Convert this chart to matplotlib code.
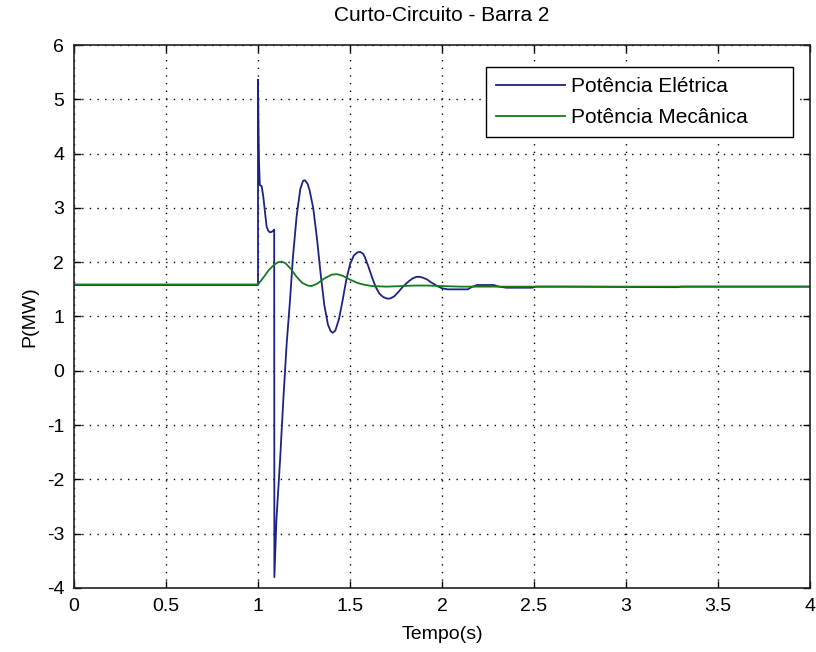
import matplotlib
matplotlib.use("Agg")
import matplotlib.pyplot as plt

plt.rcParams["font.family"] = ["Liberation Sans", "DejaVu Sans"]
plt.rcParams["axes.unicode_minus"] = False

# Electrical power response to the short circuit (time in s, power in MW)
t_ele = [0.0, 1.0, 1.0, 1.003, 1.006, 1.01, 1.02, 1.029, 1.038, 1.047, 1.056, 1.065,
         1.075, 1.083, 1.088, 1.089, 1.10, 1.12, 1.1375, 1.156, 1.174, 1.19, 1.21,
         1.23, 1.245, 1.255, 1.27, 1.28, 1.30, 1.32, 1.34, 1.36,
         1.38, 1.395, 1.406, 1.42, 1.44, 1.46, 1.48, 1.50, 1.52, 1.54, 1.555, 1.57,
         1.58, 1.60, 1.62, 1.64, 1.66, 1.68, 1.70, 1.717, 1.74, 1.76, 1.78, 1.80,
         1.82, 1.84, 1.86, 1.88, 1.90, 1.92, 1.94, 1.96, 1.98, 2.00, 2.03, 2.14,
         2.16, 2.19, 2.28, 2.31, 2.35, 2.49, 2.51, 2.67, 3.23, 3.28, 3.30, 4.0]
p_ele = [1.58, 1.58, 5.36, 4.40, 3.80, 3.42, 3.40, 3.20, 2.92, 2.65, 2.58, 2.55,
         2.56, 2.58, 2.60, -3.80, -2.75, -1.64, -0.54, 0.51, 1.30, 2.10, 2.85,
         3.35, 3.50, 3.51, 3.44, 3.33, 3.00, 2.45, 1.80, 1.22,
         0.85, 0.73, 0.70, 0.74, 0.95, 1.30, 1.68, 1.96, 2.12, 2.18, 2.19, 2.16,
         2.10, 1.92, 1.72, 1.54, 1.42, 1.36, 1.33, 1.33, 1.37, 1.44, 1.52, 1.59,
         1.65, 1.70, 1.73, 1.73, 1.71, 1.68, 1.63, 1.59, 1.55, 1.52, 1.50, 1.50,
         1.54, 1.58, 1.58, 1.55, 1.53, 1.53, 1.55, 1.55, 1.54, 1.54, 1.55, 1.55]

# Mechanical power response
t_mec = [0.0, 1.0, 1.03, 1.06, 1.09, 1.11, 1.13, 1.15, 1.18, 1.21, 1.24, 1.27,
         1.29, 1.32, 1.36, 1.40, 1.43, 1.46, 1.50, 1.54, 1.57, 1.62, 1.70, 1.78,
         1.85, 1.92, 2.00, 2.10, 2.30, 4.0]
p_mec = [1.59, 1.59, 1.72, 1.86, 1.96, 2.00, 2.01, 1.98, 1.87, 1.73, 1.62, 1.57,
         1.56, 1.60, 1.70, 1.77, 1.78, 1.75, 1.68, 1.62, 1.59, 1.56, 1.55, 1.56,
         1.57, 1.57, 1.56, 1.55, 1.55, 1.55]

title = "Curto-Circuito - Barra 2"
xlabel = "Tempo(s)"
ylabel = "P(MW)"
labels = ["Potência Elétrica", "Potência Mecânica"]
xticks = [0, 0.5, 1, 1.5, 2, 2.5, 3, 3.5, 4]
xticklabels = ["0", "0.5", "1", "1.5", "2", "2.5", "3", "3.5", "4"]
yticks = list(range(-4, 7))

fig = plt.figure(figsize=(8.16, 6.52), dpi=100)
ax = fig.add_axes([74 / 816, (652 - 588) / 652, 736 / 816, 543 / 652])

ax.plot(t_ele, p_ele, color="#1c2384", lw=1.3, label=labels[0])
ax.plot(t_mec, p_mec, color="#177a1f", lw=1.3, label=labels[1])

ax.set_xlim(0, 4)
ax.set_ylim(-4, 6)
ax.set_xticks(xticks)
ax.set_xticklabels(xticklabels)
ax.set_yticks(yticks)

ax.grid(True, color="black", linestyle=(0, (1, 4.5)), lw=1.0)
ax.tick_params(direction="in", length=5, width=1, top=True, right=True,
               labelsize=14, pad=7)
for s in ax.spines.values():
    s.set_linewidth(1.2)
    s.set_color("#222222")

ax.set_title(title, fontsize=15, pad=17)
ax.set_xlabel(xlabel, fontsize=14, labelpad=8)
ax.set_ylabel(ylabel, fontsize=14, labelpad=6)

# legend box stretched to a fixed width, entries left-aligned inside it
leg_box = (412 / 736, 451 / 543, 307 / 736, 70 / 543)
leg = ax.legend(loc="upper left", bbox_to_anchor=leg_box, mode="expand",
                borderaxespad=0, fontsize=15, handlelength=3.3, handletextpad=0.3,
                labelspacing=0.55, borderpad=0.5, fancybox=False, framealpha=1,
                edgecolor="black")
leg.get_frame().set_linewidth(1.0)

fig.savefig("out.png", dpi=100)
